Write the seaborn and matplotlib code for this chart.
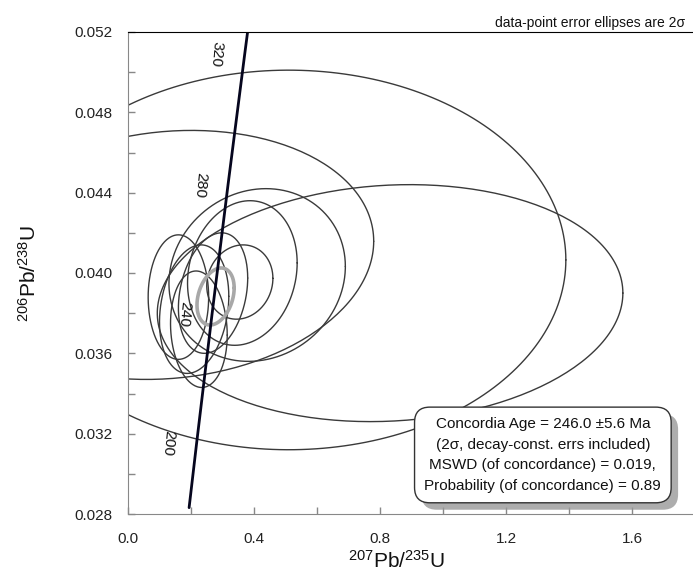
import numpy as np
import pandas as pd
import seaborn as sns
import matplotlib.pyplot as plt
import matplotlib.patheffects as pe

# data-point error ellipses (2 sigma): centre, half extent in x / y, error correlation
ell_x = [0.51, 0.13, 0.832, 0.41, 0.363, 0.16, 0.355, 0.21, 0.225, 0.27]
ell_y = [0.04065, 0.0409, 0.0385, 0.0399, 0.0400, 0.0388, 0.03955, 0.0382, 0.0372, 0.0390]
ell_sx = [0.88, 0.65, 0.739, 0.28, 0.174, 0.096, 0.105, 0.11, 0.09, 0.11]
ell_sy = [0.00945, 0.0062, 0.0059, 0.0043, 0.0036, 0.0031, 0.00185, 0.0032, 0.0029, 0.0030]
ell_rho = [0.0, 0.11, 0.085, 0.1, 0.14, 0.0, 0.1, 0.2, -0.1, 0.25]

# concordia age ellipse
age_x, age_y, age_sx, age_sy, age_rho = 0.278, 0.03883, 0.059, 0.00142, 0.3

# concordia curve (Ma) and its ratios
conc_age = [180, 200, 240, 280, 320, 330]
conc_x = [0.19396, 0.21771, 0.26665, 0.31752, 0.37047, 0.38403]
conc_y = [0.028316, 0.031511, 0.037932, 0.044392, 0.050893, 0.052524]
label_ages = [200, 240, 280, 320]

info = ("Concordia Age = 246.0 \u00b15.6 Ma\n"
        "(2\u03c3, decay-const. errs included)\n"
        "MSWD (of concordance) = 0.019,\n"
        "Probability (of concordance) = 0.89")


def outline(i, cx, cy, sx, sy, rho):
    t = np.linspace(0, 2 * np.pi, 240)
    x = cx + sx * np.cos(t)
    y = cy + sy * (rho * np.cos(t) + np.sqrt(1 - rho ** 2) * np.sin(t))
    return pd.DataFrame({'id': i, 'x': x, 'y': y})


sns.set_style('ticks')
plt.rcParams['font.family'] = ['Liberation Sans', 'DejaVu Sans']

df_ell = pd.concat([outline(i, *p) for i, p in
                    enumerate(zip(ell_x, ell_y, ell_sx, ell_sy, ell_rho))])
df_age = outline(0, age_x, age_y, age_sx, age_sy, age_rho)
df_conc = pd.DataFrame({'age': conc_age, 'x': conc_x, 'y': conc_y})

fig = plt.figure(figsize=(6.93, 5.74), dpi=100)
ax = fig.add_axes([128 / 693, 60 / 574, 567 / 693, 482 / 574])

sns.lineplot(data=df_ell, x='x', y='y', units='id', estimator=None, sort=False,
             color='#3a3a3a', linewidth=1.0, legend=False, ax=ax)
sns.lineplot(data=df_age, x='x', y='y', estimator=None, sort=False,
             color='#a8a8a8', linewidth=2.6, legend=False, ax=ax)
sns.lineplot(data=df_conc, x='x', y='y', estimator=None, sort=False,
             color='#06061e', linewidth=2.0, legend=False, ax=ax)

for a in label_ages:
    row = df_conc[df_conc['age'] == a].iloc[0]
    ax.annotate(str(a), (row['x'], row['y']), xytext=(-28, 0), textcoords='offset pixels',
                rotation=-95, ha='center', va='center', fontsize=11, color='#111111')

t = ax.text(1.317, 0.03094, info, ha='center', va='center', fontsize=11, linespacing=1.6,
            color='#111111', zorder=10,
            bbox=dict(boxstyle='round,pad=0.65,rounding_size=1.0', fc='white', ec='#333333', lw=1))
t.get_bbox_patch().set_path_effects([pe.SimplePatchShadow(offset=(5, -5), shadow_rgbFace='#999999', alpha=0.8),
                                     pe.Normal()])

ax.set_xlim(0, 1.8)
ax.set_ylim(0.028, 0.052)
ax.set_xticks([0.0, 0.4, 0.8, 1.2, 1.6])
ax.set_xticklabels(['0.0', '0.4', '0.8', '1.2', '1.6'])
ax.set_xticks(np.arange(0, 1.81, 0.2), minor=True)
ax.set_yticks([0.028, 0.032, 0.036, 0.040, 0.044, 0.048, 0.052])
ax.set_yticklabels(['0.028', '0.032', '0.036', '0.040', '0.044', '0.048', '0.052'])
ax.set_yticks(np.arange(0.028, 0.0521, 0.002), minor=True)
ax.tick_params(which='both', direction='in', length=5, width=1, color='#888888',
               labelsize=11, labelcolor='#222222')
ax.tick_params(axis='x', pad=13)
ax.tick_params(axis='y', pad=11)

for s in ['left', 'bottom']:
    ax.spines[s].set_color('#888888')
ax.spines['top'].set_color('black')
ax.spines['right'].set_visible(False)

ax.set_xlabel(r'$\mathregular{^{207}}$Pb/$\mathregular{^{235}}$U', fontsize=15, color='#111111',
              ha='center', va='center')
ax.xaxis.set_label_coords(0.473, -0.098)
ax.set_ylabel(r'$\mathregular{^{206}}$Pb/$\mathregular{^{238}}$U', fontsize=15, color='#111111',
              ha='center', va='center')
ax.yaxis.set_label_coords(-0.175, 0.5)

fig.text(685 / 693, 1 - 27 / 574, 'data-point error ellipses are 2\u03c3', ha='right', va='baseline',
         fontsize=10, color='#111111')

fig.savefig('out.png', dpi=100)
